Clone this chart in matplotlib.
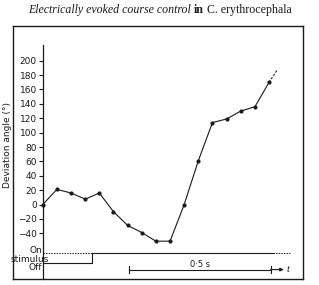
"""Electrically evoked course control in C. erythrocephala: deviation angle vs time."""
import matplotlib
matplotlib.use("Agg")
import matplotlib.pyplot as plt

# deviation angle, one sample every 50 ms
time_s = [0.0, 0.05, 0.10, 0.15, 0.20, 0.25, 0.30, 0.35, 0.40,
          0.45, 0.50, 0.55, 0.60, 0.65, 0.70, 0.75, 0.80]
angle_deg = [0, 21, 16, 7.5, 16, -10, -29, -39, -51,
             -51, 0, 61, 114, 119, 130, 136, 170]
# dashed continuation past the last sample
tail_time = [0.80, 0.83]
tail_angle = [170, 188]

yticks = [-40, -20, 0, 20, 40, 60, 80, 100, 120, 140, 160, 180, 200]

# stimulus trace (s)
stim_onset = 0.175
stim_solid_end = 0.813
stim_dash_end = 0.874

# time scale bar
bar_start = 0.306
bar_len = 0.5

W, H = 319, 285
fig = plt.figure(figsize=(W / 100, H / 100), dpi=100)
ink = "#1a1a1a"

# frame box (pixels: x 12.5..303, y 26..279)
fl, fr, ft, fb = 12.5, 303, 26, 279
pos = [fl / W, 1 - fb / H, (fr - fl) / W, (fb - ft) / H]
frame = fig.add_axes(pos)
frame.set_xticks([])
frame.set_yticks([])
for s in frame.spines.values():
    s.set_linewidth(1.0)
    s.set_color(ink)

ax = fig.add_axes(pos, facecolor="none")
ax.set_xlim(-0.107, 0.920)
ax.set_ylim(-103.6, 248.3)
for k in ["top", "right", "bottom"]:
    ax.spines[k].set_visible(False)
ax.spines["left"].set_position(("data", 0))
ax.spines["left"].set_bounds(-103.6, 221.8)
ax.spines["left"].set_linewidth(0.9)
ax.spines["left"].set_color(ink)
ax.set_xticks([])
ax.set_yticks(yticks)
ax.set_yticklabels([str(v).replace("-", "\u2212") for v in yticks],
                   fontsize=6.5, family="Liberation Sans Narrow", color=ink)
ax.tick_params(axis="y", direction="out", length=3, width=0.8, pad=1.2, colors=ink)

ax.plot(time_s, angle_deg, "-o", color=ink, lw=0.8, ms=2.0)
ax.plot(tail_time, tail_angle, "--", color=ink, lw=0.8, dashes=(2, 1.5))

# stimulus trace
on_y, off_y = -66.8, -81.8
ax.plot([0, stim_onset], [on_y, on_y], color=ink, lw=0.7, dashes=(1.5, 1.2))
ax.plot([0, stim_onset, stim_onset, stim_solid_end],
        [off_y, off_y, on_y, on_y], color=ink, lw=0.8)
ax.plot([stim_solid_end, stim_dash_end], [on_y, on_y], color=ink, lw=0.7,
        dashes=(1.5, 1.2))
lab = dict(fontsize=6.5, family="Liberation Sans Narrow", color=ink,
           va="center")
ax.text(-0.026, -64.5, "On", ha="center", **lab)
ax.text(-0.046, -76.5, "stimulus", ha="center", **lab)
ax.text(-0.026, -87.5, "Off", ha="center", **lab)

# scale bar
bar_y = -90.5
ax.plot([bar_start, bar_start + bar_len], [bar_y, bar_y], color=ink, lw=0.8)
for xt in [bar_start, bar_start + bar_len]:
    ax.plot([xt, xt], [bar_y - 4.5, bar_y + 4.5], color=ink, lw=0.8)
ax.annotate("", xy=(0.852, bar_y), xytext=(bar_start + bar_len, bar_y),
            arrowprops=dict(arrowstyle="-|>", color=ink, lw=0.8,
                            mutation_scale=5, shrinkA=0, shrinkB=0))
ax.text(0.868, bar_y, "t", fontsize=7.5, style="italic",
        family="Liberation Serif", color=ink, va="center", ha="center")
ax.text(bar_start + bar_len / 2, bar_y + 1.5, "0·5 s", fontsize=6,
        family="Liberation Sans Narrow", color=ink, ha="center", va="bottom")

fig.text(7.5 / W, 1 - 145 / H, "Deviation angle (°)", rotation=90,
         fontsize=6.5, family="Liberation Sans Narrow", color=ink,
         ha="center", va="center")

# title with mixed styles, pieces laid end to end
parts = [("Electrically evoked course control ", "italic", "normal"),
         ("in", "normal", "bold"),
         (" C. erythrocephala", "normal", "normal")]
renderer = fig.canvas.get_renderer()
texts = []
total = 0
for s, st, wt in parts:
    t = fig.text(0, 1 - 10 / H, s, fontsize=8.6, family="Liberation Serif",
                 style=st, weight=wt, color=ink, va="center", ha="left")
    w = t.get_window_extent(renderer).width
    texts.append((t, w))
    total += w
x0 = 160 - total / 2
for t, w in texts:
    t.set_x(x0 / W)
    x0 += w

fig.savefig("out.png", dpi=100)
